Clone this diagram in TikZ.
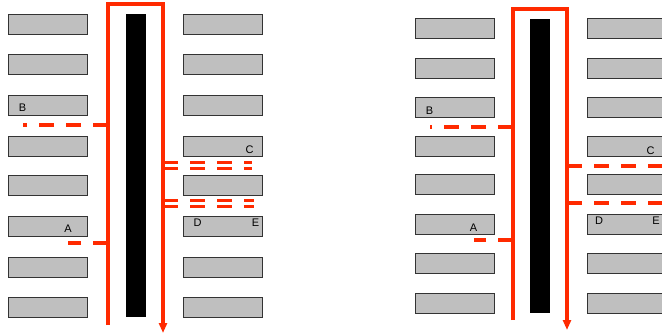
\documentclass[tikz,border=0pt]{standalone}
\usepackage{fontspec}
\setmainfont{Liberation Sans}
\usetikzlibrary{positioning, arrows.meta}
\definecolor{flowred}{HTML}{FF2A00}

\begin{document}
\begin{tikzpicture}[
        x=1pt, y=-1pt, >={Triangle[length=10pt, width=8pt]},
        slot/.style={rectangle, draw=black!80, fill=black!25, line width=1pt,
                     minimum width=79pt, minimum height=20pt, inner sep=0pt, outer sep=0pt},
        wall/.style={rectangle, fill=black, minimum width=20pt, inner sep=0pt, outer sep=0pt},
        flow/.style={line width=3.2pt, flowred},
        leak/.style={flow, dash pattern=on 15pt off 12pt},
        tag/.style={inner sep=0pt, font=\fontsize{11}{13}\selectfont}
    ]
        \clip (0,0) rectangle (662,335);

        % --- PANEL 1: LEFT COLUMN ---
        \node[slot] (a1) at (47.5, 24) {};
        \node[slot] (a2) at (47.5, 64.5) {};
        \node[slot] (a3) at (47.5, 105.5) {};
        \node[slot] (a4) at (47.5, 146) {};
        \node[slot] (a5) at (47.5, 185.5) {};
        \node[slot] (a6) at (47.5, 226.5) {};
        \node[slot] (a7) at (47.5, 267) {};
        \node[slot] (a8) at (47.5, 307) {};

        % --- PANEL 1: RIGHT COLUMN ---
        \node[slot] (b1) at (223, 24) {};
        \node[slot] (b2) at (223, 64.5) {};
        \node[slot] (b3) at (223, 105.5) {};
        \node[slot] (b4) at (223, 146) {};
        \node[slot] (b5) at (223, 185.5) {};
        \node[slot] (b6) at (223, 226.5) {};
        \node[slot] (b7) at (223, 267) {};
        \node[slot] (b8) at (223, 307) {};

        % --- PANEL 1: WALL ---
        \node[wall, minimum height=303pt] (wall1) at (136, 165.5) {};

        % --- PANEL 2: LEFT COLUMN ---
        \node[slot] (c1) at (454.5, 28.5) {};
        \node[slot] (c2) at (454.5, 68) {};
        \node[slot] (c3) at (454.5, 107.5) {};
        \node[slot] (c4) at (454.5, 146.5) {};
        \node[slot] (c5) at (454.5, 184.5) {};
        \node[slot] (c6) at (454.5, 224.5) {};
        \node[slot] (c7) at (454.5, 263.5) {};
        \node[slot] (c8) at (454.5, 303) {};

        % --- PANEL 2: RIGHT COLUMN (cut by the page edge) ---
        \node[slot] (d1) at (626.5, 28.5) {};
        \node[slot] (d2) at (626.5, 68) {};
        \node[slot] (d3) at (626.5, 107.5) {};
        \node[slot] (d4) at (626.5, 146.5) {};
        \node[slot] (d5) at (626.5, 184.5) {};
        \node[slot] (d6) at (626.5, 224.5) {};
        \node[slot] (d7) at (626.5, 263.5) {};
        \node[slot] (d8) at (626.5, 303) {};

        % --- PANEL 2: WALL ---
        \node[wall, minimum height=294pt] (wall2) at (540, 166) {};

        % --- LABELS ---
        \node[tag] (tB1) at (22.5, 108) {B};
        \node[tag] (tA1) at (68, 229) {A};
        \node[tag] (tC1) at (249.5, 149.5) {C};
        \node[tag] (tD1) at (197.5, 222.5) {D};
        \node[tag] (tE1) at (255.5, 222.5) {E};
        \node[tag] (tB2) at (429.5, 110.5) {B};
        \node[tag] (tA2) at (473.5, 227.5) {A};
        \node[tag] (tC2) at (650.5, 150.5) {C};
        \node[tag] (tD2) at (599, 220.5) {D};
        \node[tag] (tE2) at (656, 220.5) {E};

        % --- PANEL 1: FLOW ---
        \coordinate (in1) at (108, 325);
        \coordinate (up1) at (108, 4);
        \coordinate (over1) at (163, 4);
        \coordinate (out1) at (163, 333);
        \draw[flow, ->] (in1) -- (up1) -- (over1) -- (out1);

        \coordinate (jB1) at (108, 125);
        \coordinate (eB1) at (23, 125);
        \coordinate (jA1) at (108, 243);
        \coordinate (eA1) at (68, 243);
        \draw[leak] (jB1) -- (eB1);
        \draw[leak] (jA1) -- (eA1);

        \coordinate (jC1) at (163, 162.5);
        \coordinate (eC1) at (252, 162.5);
        \coordinate (jC2) at (163, 168.5);
        \coordinate (eC2) at (252, 168.5);
        \coordinate (jD1) at (163, 200.5);
        \coordinate (eD1) at (254, 200.5);
        \coordinate (jD2) at (163, 206.5);
        \coordinate (eD2) at (254, 206.5);
        \draw[leak] (jC1) -- (eC1);
        \draw[leak] (jC2) -- (eC2);
        \draw[leak] (jD1) -- (eD1);
        \draw[leak] (jD2) -- (eD2);

        % --- PANEL 2: FLOW ---
        \coordinate (in2) at (513, 320);
        \coordinate (up2) at (513, 9);
        \coordinate (over2) at (567, 9);
        \coordinate (out2) at (567, 330);
        \draw[flow, ->] (in2) -- (up2) -- (over2) -- (out2);

        \coordinate (jB2) at (513, 127);
        \coordinate (eB2) at (430, 127);
        \coordinate (jA2) at (513, 240);
        \coordinate (eA2) at (474, 240);
        \draw[leak] (jB2) -- (eB2);
        \draw[leak] (jA2) -- (eA2);

        \coordinate (jC3) at (567, 166);
        \coordinate (eC3) at (670, 166);
        \coordinate (jD3) at (567, 203);
        \coordinate (eD3) at (670, 203);
        \draw[leak] (jC3) -- (eC3);
        \draw[leak] (jD3) -- (eD3);

    \end{tikzpicture}
\end{document}
